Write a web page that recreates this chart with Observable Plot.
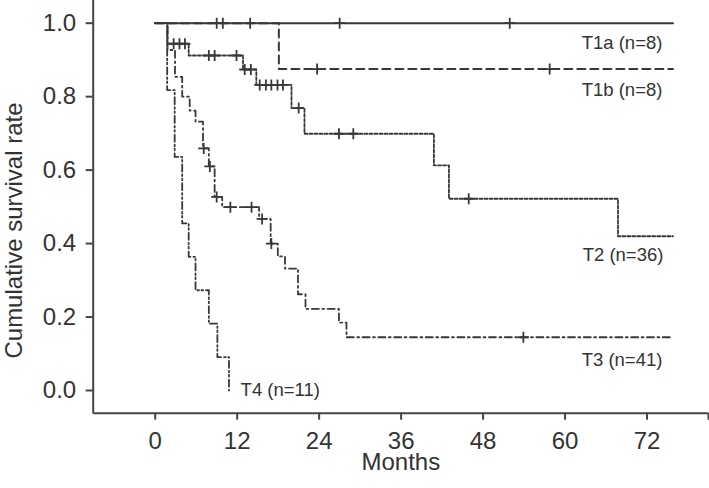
<!DOCTYPE html>
<html>
<head>
<meta charset="utf-8">
<script src="https://cdn.jsdelivr.net/npm/d3@7"></script>
<script src="https://cdn.jsdelivr.net/npm/@observablehq/plot@0.6"></script>
<style>
  html, body { margin: 0; padding: 0; background: #fff; }
  #chart { width: 709px; height: 488px; }
</style>
</head>
<body>
<div id="chart"></div>
<script>
// ---- Data ----
const xTicks = [0, 12, 24, 36, 48, 60, 72];
const yTicks = [0, 0.2, 0.4, 0.6, 0.8, 1.0];
const followUpEnd = 75.8;

// T1a (n=8)
const t1aTimes = [0];
const t1aSurv = [1];
const t1aCensor = [9.0, 9.9, 13.9, 27.0, 51.9];

// T1b (n=8)
const t1bTimes = [0, 18.1];
const t1bSurv = [1, 0.875];
const t1bCensor = [23.7, 57.75];

// T2 (n=36)
const t2Times = [0, 1.8, 4.9, 12.85, 14.8, 19.95, 21.85, 40.8, 43.0, 67.75];
const t2Surv = [1, 0.944, 0.912, 0.874, 0.832, 0.769, 0.699, 0.613, 0.522, 0.420];
const t2Censor = [2.7, 3.55, 4.35, 7.85, 8.7, 11.9, 13.1, 14.0, 15.3, 16.2, 17.0, 17.9, 18.7, 21.0, 26.9, 29.0, 45.9];

// T3 (n=41)
const t3Times = [0, 1.8, 2.9, 3.95, 5.05, 5.9, 7.0, 7.85, 8.7, 9.8, 15.2, 16.9, 17.95, 19.0, 20.9, 22.0, 26.9, 28.0];
const t3Surv = [1, 0.927, 0.854, 0.80, 0.762, 0.732, 0.659, 0.610, 0.527, 0.499, 0.467, 0.400, 0.365, 0.332, 0.262, 0.222, 0.185, 0.145];
const t3Censor = [7.1, 8.0, 9.0, 11.0, 14.1, 15.65, 17.0, 53.9];

// T4 (n=11)
const t4Times = [0, 1.75, 2.85, 3.95, 4.9, 5.9, 7.85, 9.1, 10.8];
const t4Surv = [1, 0.818, 0.636, 0.455, 0.364, 0.273, 0.182, 0.091, 0];

const labelNames = ["T1a (n=8)", "T1b (n=8)", "T2 (n=36)", "T3 (n=41)", "T4 (n=11)"];
const labelX = [74.25, 74.25, 74.4, 74.25, 12.5];
const labelY = [0.947, 0.819, 0.370, 0.084, 0.0];
const labelAnchor = ["end", "end", "end", "end", "start"];

// ---- Build tables ----
function curve(times, surv, end) {
  const rows = times.map((t, i) => ({t, s: surv[i]}));
  if (end != null) rows.push({t: end, s: surv[surv.length - 1]});
  return rows;
}
function survAt(times, surv, t) {
  let s = surv[0];
  for (let i = 0; i < times.length; i++) if (times[i] <= t) s = surv[i];
  return s;
}
function censors(times, surv, cs) {
  return cs.map(t => ({t, s: survAt(times, surv, t)}));
}

const c1a = curve(t1aTimes, t1aSurv, followUpEnd);
const c1b = curve(t1bTimes, t1bSurv, followUpEnd);
const c2 = curve(t2Times, t2Surv, followUpEnd);
const c3 = curve(t3Times, t3Surv, followUpEnd);
const c4 = curve(t4Times, t4Surv, null);

const marks = [
  ...censors(t1aTimes, t1aSurv, t1aCensor),
  ...censors(t1bTimes, t1bSurv, t1bCensor),
  ...censors(t2Times, t2Surv, t2Censor),
  ...censors(t3Times, t3Surv, t3Censor)
];

const labels = labelNames.map((name, i) => ({name, x: labelX[i], y: labelY[i], a: labelAnchor[i]}));

const plusSymbol = {
  draw(ctx, size) {
    const r = Math.sqrt(size / Math.PI);
    ctx.moveTo(-r, 0); ctx.lineTo(r, 0);
    ctx.moveTo(0, -r); ctx.lineTo(0, r);
  }
};

const ink = "#383838";
const xMin = -9.08, xMax = 81.0, yMin = -0.0618, yMax = 1.0618;

const chart = Plot.plot({
  width: 709,
  height: 488,
  marginLeft: 92.7,
  marginRight: 1,
  marginTop: 0,
  marginBottom: 75.3,
  style: {fontFamily: "'Liberation Sans', Arial, sans-serif", fontSize: "24px", color: "#333", background: "#fff"},
  x: {domain: [xMin, xMax]},
  y: {domain: [yMin, yMax]},
  marks: [
    Plot.ruleX([xMin], {stroke: "#444", strokeWidth: 2}),
    Plot.ruleY([yMin], {stroke: "#444", strokeWidth: 2}),
    Plot.ruleX([xMax], {y1: yMin, y2: yMin, insetBottom: -7, stroke: "#444", strokeWidth: 2}),
    Plot.axisY({ticks: yTicks, tickFormat: d3.format(".1f"), tickSize: 7, tickPadding: 10, strokeWidth: 2, stroke: "#444", fontSize: 24, label: null}),
    Plot.axisX({ticks: xTicks, tickFormat: d => String(d), tickSize: 7, tickPadding: 12, strokeWidth: 2, stroke: "#444", fontSize: 24, label: null}),
    Plot.line(c1a, {x: "t", y: "s", curve: "step-after", stroke: ink, strokeWidth: 2}),
    Plot.line(c1b, {x: "t", y: "s", curve: "step-after", stroke: ink, strokeWidth: 2, strokeDasharray: "8,5"}),
    Plot.line(c2, {x: "t", y: "s", curve: "step-after", stroke: ink, strokeWidth: 1.8, strokeDasharray: "3,2"}),
    Plot.line(c3, {x: "t", y: "s", curve: "step-after", stroke: ink, strokeWidth: 1.8, strokeDasharray: "7,3.5,1.8,3.5"}),
    Plot.line(c4, {x: "t", y: "s", curve: "step-after", stroke: ink, strokeWidth: 1.8, strokeDasharray: "7,3,1.6,2.5,1.6,3"}),
    Plot.dot(marks, {x: "t", y: "s", symbol: plusSymbol, r: 5.5, stroke: ink, strokeWidth: 1.8, fill: "none"}),
    Plot.text(labels.filter(d => d.a === "end"), {x: "x", y: "y", text: "name", textAnchor: "end", fontSize: 18.5, fill: "#333"}),
    Plot.text(labels.filter(d => d.a === "start"), {x: "x", y: "y", text: "name", textAnchor: "start", fontSize: 18.5, fill: "#333"}),
    Plot.text(["Months"], {text: d => d, frameAnchor: "bottom", textAnchor: "middle", lineAnchor: "top", dy: 40, fontSize: 24, fill: "#333"}),
    Plot.text(["Cumulative survival rate"], {text: d => d, y: () => 0.4356, frameAnchor: "left", textAnchor: "middle", rotate: -90, dx: -78.4, fontSize: 24, fill: "#333"})
  ]
});
document.getElementById("chart").appendChild(chart);
</script>
</body>
</html>
